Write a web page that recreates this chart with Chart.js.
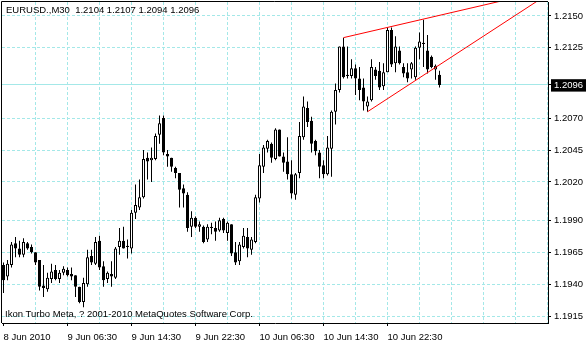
<!DOCTYPE html>
<html>
<head>
<meta charset="utf-8">
<script src="https://cdn.jsdelivr.net/npm/chart.js@4.4.0/dist/chart.umd.min.js"></script>
<style>
html, body { margin: 0; padding: 0; background: #fff; }
#wrap { width: 586px; height: 340px; }
</style>
</head>
<body>
<div id="wrap"><canvas id="chart" width="586" height="340"></canvas></div>
<script>
var symbol = "EURUSD.,M30";
var lastBar = [1.2104, 1.2107, 1.2094, 1.2096];
var copyright = "Ikon Turbo Meta, ? 2001-2010 MetaQuotes Software Corp.";

// M30 bars, one per index (8 Jun 2010 22:30 onwards)
var opens = [1.1955,1.1946,1.1955,1.1972,1.1968,1.1963,1.1972,1.1969,1.1965,1.1959,
	1.1939,1.1936,1.1944,1.1951,1.1944,1.1949,1.1951,1.1948,1.1947,1.1938,
	1.1926,1.1940,1.1962,1.1956,1.1974,1.1954,1.1944,1.1948,1.1945,1.1969,
	1.1974,1.1969,1.1968,1.1996,1.2000,1.2008,1.2039,1.2037,1.2038,1.2057,
	1.2070,1.2042,1.2039,1.2031,1.2027,1.2015,1.2010,1.1985,1.1992,1.1985,
	1.1985,1.1975,1.1985,1.1984,1.1982,1.1991,1.1980,1.1987,1.1965,1.1958,
	1.1969,1.1977,1.1967,1.1973,1.2007,1.2032,1.2046,1.2050,1.2038,1.2061,
	1.2040,1.2036,1.2026,1.2010,1.2027,1.2055,1.2078,1.2068,1.2052,1.2043,
	1.2033,1.2026,1.2046,1.2075,1.2092,1.2126,1.2104,1.2103,1.2109,1.2101,
	1.2094,1.2079,1.2084,1.2108,1.2107,1.2095,1.2106,1.2139,1.2113,1.2123,
	1.2110,1.2106,1.2108,1.2102,1.2125,1.2129,1.2123,1.2118,1.2108,1.2104];
var highs = [1.1957,1.1959,1.1973,1.1977,1.1974,1.1976,1.1973,1.1971,1.1965,1.1959,
	1.1955,1.1949,1.1956,1.1955,1.1951,1.1954,1.1953,1.1953,1.1947,1.1938,
	1.1945,1.1967,1.1967,1.1977,1.1978,1.1958,1.1950,1.1958,1.1969,1.1984,
	1.1985,1.1975,1.1998,1.2018,1.2022,1.2045,1.2043,1.2047,1.2058,1.2072,
	1.2072,1.2045,1.2039,1.2032,1.2027,1.2018,1.2012,1.1997,1.1993,1.1989,
	1.1986,1.1987,1.1988,1.1989,1.1992,1.1992,1.1989,1.1987,1.1973,1.1973,
	1.1984,1.1984,1.1977,1.2010,1.2042,1.2049,1.2053,1.2051,1.2062,1.2061,
	1.2043,1.2055,1.2037,1.2027,1.2067,1.2087,1.2083,1.2071,1.2053,1.2045,
	1.2037,1.2056,1.2076,1.2097,1.2126,1.2133,1.2126,1.2116,1.2112,1.2110,
	1.2101,1.2087,1.2116,1.2110,1.2114,1.2113,1.2141,1.2141,1.2134,1.2126,
	1.2113,1.2113,1.2114,1.2126,1.2137,1.2147,1.2135,1.2119,1.2112,1.2107];
var lows = [1.1933,1.1943,1.1953,1.1961,1.1961,1.1961,1.1967,1.1964,1.1955,1.1935,
	1.1930,1.1934,1.1941,1.1943,1.1941,1.1947,1.1946,1.1943,1.1930,1.1925,
	1.1922,1.1938,1.1955,1.1955,1.1951,1.1938,1.1941,1.1938,1.1944,1.1963,
	1.1968,1.1960,1.1964,1.1991,1.1998,1.2007,1.2022,1.2020,1.2037,1.2050,
	1.2041,1.2032,1.2028,1.2023,1.2000,1.2000,1.1981,1.1977,1.1984,1.1981,
	1.1972,1.1973,1.1979,1.1974,1.1981,1.1980,1.1974,1.1962,1.1955,1.1955,
	1.1968,1.1961,1.1963,1.1972,1.2004,1.2027,1.2043,1.2035,1.2037,1.2040,
	1.2028,1.2022,1.2007,1.2006,1.2023,1.2053,1.2063,1.2043,1.2041,1.2023,
	1.2023,1.2025,1.2024,1.2065,1.2090,1.2101,1.2101,1.2101,1.2088,1.2084,
	1.2076,1.2075,1.2083,1.2100,1.2092,1.2092,1.2106,1.2110,1.2106,1.2112,
	1.2102,1.2098,1.2101,1.2100,1.2116,1.2110,1.2105,1.2109,1.2100,1.2094];
var closes = [1.1943,1.1956,1.1971,1.1968,1.1963,1.1973,1.1968,1.1965,1.1957,1.1938,
	1.1937,1.1945,1.1950,1.1944,1.1949,1.1952,1.1947,1.1946,1.1938,1.1926,
	1.1941,1.1961,1.1957,1.1973,1.1953,1.1943,1.1949,1.1946,1.1968,1.1974,
	1.1968,1.1970,1.1996,1.2002,1.2008,1.2038,1.2036,1.2039,1.2056,1.2066,
	1.2043,1.2040,1.2032,1.2027,1.2014,1.2011,1.1984,1.1992,1.1985,1.1987,
	1.1973,1.1985,1.1984,1.1981,1.1990,1.1982,1.1988,1.1964,1.1957,1.1971,
	1.1978,1.1968,1.1975,1.2008,1.2033,1.2047,1.2052,1.2039,1.2061,1.2040,
	1.2035,1.2026,1.2011,1.2026,1.2056,1.2079,1.2067,1.2050,1.2044,1.2032,
	1.2026,1.2047,1.2075,1.2092,1.2126,1.2102,1.2103,1.2109,1.2101,1.2092,
	1.2083,1.2083,1.2110,1.2103,1.2094,1.2106,1.2139,1.2112,1.2126,1.2113,
	1.2105,1.2101,1.2113,1.2125,1.2130,1.2128,1.2108,1.2110,1.2111,1.2096];

var timeLabels = ["8 Jun 2010", "9 Jun 06:30", "9 Jun 14:30", "9 Jun 22:30", "10 Jun 06:30", "10 Jun 14:30", "10 Jun 22:30"];
var priceTicks = [1.2150, 1.2125, 1.2096, 1.2070, 1.2045, 1.2020, 1.1990, 1.1965, 1.1940, 1.1915];
var bidPrice = 1.2096;

// trend lines (bar index, price)
var upperLine = [{x: 85, y: 1.2133}, {x: 140, y: 1.2173}];
var lowerLine = [{x: 91, y: 1.2075}, {x: 140, y: 1.2175}];

var gridColor = "#a4e8e8";
var barsPerLabel = 16;
var barsPerGrid = 8;

Chart.defaults.font.family = "'Liberation Sans', Arial, sans-serif";
Chart.defaults.font.size = 9.5;
Chart.defaults.color = "#000";

var bodies = [];
var wicks = [];
for (var i = 0; i < opens.length; i++) {
	bodies.push({x: i, y: [opens[i], closes[i]]});
	wicks.push({x: i, y: [lows[i], highs[i]]});
}

function isLabelTick(v) {
	return v % barsPerLabel === 0 && v / barsPerLabel < timeLabels.length;
}

// vertical time grid + tick marks, placed with the x scale
var timeGridPlugin = {
	id: "timeGrid",
	beforeDatasetsDraw: function (chart) {
		var ctx = chart.ctx;
		var a = chart.chartArea;
		var xs = chart.scales.x;
		var px;
		ctx.save();
		ctx.lineWidth = 1;
		ctx.strokeStyle = gridColor;
		ctx.setLineDash([3, 2]);
		for (var v = barsPerGrid; v <= xs.max; v += barsPerGrid) {
			px = Math.round(xs.getPixelForValue(v) - 0.5) + 0.5;
			ctx.beginPath();
			ctx.moveTo(px, a.top);
			ctx.lineTo(px, a.bottom);
			ctx.stroke();
		}
		ctx.setLineDash([]);
		ctx.strokeStyle = "#000";
		for (var k = 0; k < timeLabels.length; k++) {
			px = Math.round(xs.getPixelForValue(k * barsPerLabel) - 0.5) + 0.5;
			ctx.beginPath();
			ctx.moveTo(px, a.bottom);
			ctx.lineTo(px, a.bottom + 3);
			ctx.stroke();
		}
		ctx.restore();
	}
};

var framePlugin = {
	id: "frame",
	afterDraw: function (chart) {
		var ctx = chart.ctx;
		var a = chart.chartArea;
		ctx.save();
		ctx.strokeStyle = "#000";
		ctx.lineWidth = 1;
		ctx.beginPath();
		ctx.moveTo(a.left - 0.5, a.bottom);
		ctx.lineTo(a.left - 0.5, a.top - 0.5);
		ctx.lineTo(a.right, a.top - 0.5);
		ctx.stroke();
		ctx.font = "9.5px 'Liberation Sans', Arial, sans-serif";
		ctx.fillStyle = "#000";
		ctx.textBaseline = "middle";
		ctx.fillText(symbol + "  " + lastBar.map(function (v) { return v.toFixed(4); }).join(" "), a.left + 4, a.top + 8);
		ctx.fillText(copyright, a.left + 3, a.bottom - 9);
		ctx.restore();
	}
};

new Chart(document.getElementById("chart"), {
	type: "bar",
	data: {
		datasets: [{
			type: "line",
			data: upperLine,
			borderColor: "#ff0000",
			borderWidth: 1,
			pointRadius: 0,
			fill: false
		}, {
			type: "line",
			data: lowerLine,
			borderColor: "#ff0000",
			borderWidth: 1,
			pointRadius: 0,
			fill: false
		}, {
			data: bodies,
			grouped: false,
			barThickness: 3,
			minBarLength: 1,
			borderWidth: 1,
			borderSkipped: false,
			borderColor: "#000",
			inflateAmount: 0,
			backgroundColor: function (c) {
				return closes[c.dataIndex] >= opens[c.dataIndex] ? "#fff" : "#000";
			}
		}, {
			data: wicks,
			grouped: false,
			barThickness: 1,
			borderWidth: 0,
			inflateAmount: 0,
			backgroundColor: "#000"
		}]
	},
	options: {
		responsive: false,
		animation: false,
		events: [],
		layout: { padding: { left: 2, top: 2, right: 0, bottom: 0 } },
		plugins: { legend: { display: false }, tooltip: { enabled: false } },
		scales: {
			x: {
				type: "linear",
				min: -0.375,
				max: 136.125,
				offset: false,
				bounds: "data",
				afterBuildTicks: function (s) {
					s.ticks = timeLabels.map(function (t, k) { return {value: k * barsPerLabel}; });
				},
				afterFit: function (s) {
					s.height = 17;
					s.paddingLeft = 0;
					s.paddingRight = 0;
				},
				grid: { display: false },
				border: { display: true, color: "#000", width: 1 },
				ticks: {
					autoSkip: false,
					maxRotation: 0,
					minRotation: 0,
					align: "start",
					padding: 1,
					callback: function (v) {
						return isLabelTick(v) ? timeLabels[v / barsPerLabel] : "";
					}
				}
			},
			y: {
				position: "right",
				min: 1.19096,
				max: 1.21609,
				beginAtZero: false,
				bounds: "data",
				afterBuildTicks: function (s) {
					s.ticks = priceTicks.map(function (v) { return {value: v}; });
				},
				afterFit: function (s) {
					s.width = 38;
					s.paddingTop = 0;
					s.paddingBottom = 0;
				},
				grid: { color: gridColor, tickColor: "#000", tickLength: 3 },
				border: {
					color: "#000",
					dash: function (c) {
						return c.tick && c.tick.value === bidPrice ? [] : [3, 2];
					}
				},
				ticks: {
					padding: 3,
					callback: function (v) { return v.toFixed(4); },
					color: function (c) {
						return c.tick && c.tick.value === bidPrice ? "#fff" : "#000";
					},
					showLabelBackdrop: function (c) {
						return !!(c.tick && c.tick.value === bidPrice);
					},
					backdropColor: "#000",
					backdropPadding: { top: 0, bottom: 1, left: 3, right: 4 }
				}
			}
		}
	},
	plugins: [timeGridPlugin, framePlugin]
});
</script>
</body>
</html>
